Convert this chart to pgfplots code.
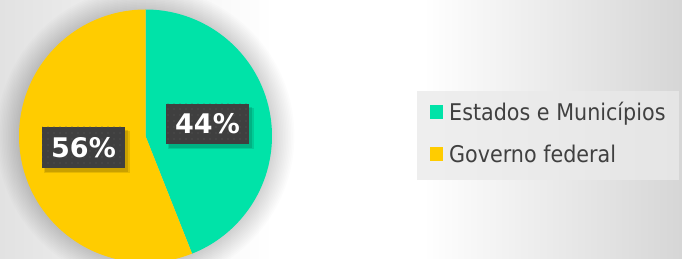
\documentclass[border=0pt]{standalone}
\usepackage{pgfplots}
\pgfplotsset{compat=1.18}
\usepackage{fontspec}
\setmainfont{DejaVu Sans}
\newfontfamily\legfont{DejaVu Sans Condensed}
\usetikzlibrary{patterns.meta}
\definecolor{pgreen}{HTML}{00E3A8}
\definecolor{pyellow}{HTML}{FFCC00}
\definecolor{boxgray}{HTML}{3F3F3F}
\definecolor{dotgray}{HTML}{5A5A5A}
\definecolor{txtgray}{HTML}{404040}
\definecolor{leggray}{HTML}{EAEAEA}
\definecolor{bgleft}{HTML}{E2E2E2}
\definecolor{bgright}{HTML}{D6D6D6}
\pgfdeclarehorizontalshading{bgshade}{100bp}{color(0bp)=(bgleft); color(25bp)=(bgleft); color(45bp)=(white); color(56bp)=(white); color(75bp)=(bgright); color(100bp)=(bgright)}

% data: share of each group (percent)
\def\valA{44}% Estados e Municipios
\def\valB{56}% Governo federal
% pie geometry (pt, 1pt = 1px)
\def\cx{145.5}\def\cy{123}\def\rr{126.5}

\begin{document}
\begin{tikzpicture}
\pgfmathsetmacro{\angA}{90-3.6*\valA}
\pgfmathsetmacro{\angB}{\angA-3.6*\valB}
% background
\shade[shading=bgshade] (0,0) rectangle (682pt,259pt);
% soft shadow of pie
\foreach \k in {1,...,14} {
  \fill[black,opacity=0.011] (\cx pt,\cy pt) circle[radius={\rr pt+\k*1.6pt}];
}
% legend panel
\fill[leggray,opacity=0.77] (417pt,79pt) rectangle (679pt,168pt);
\begin{axis}[
  at={(0,0)}, anchor=south west,
  x=1pt, y=1pt, xmin=0, xmax=682, ymin=0, ymax=259,
  hide axis, clip=true,
  legend image code/.code={\fill[#1] (0pt,-7pt) rectangle (13pt,7pt);},
  legend cell align=left,
  legend style={at={(axis cs:430,156)}, anchor=north west,
    fill=none, draw=none, inner sep=0pt, row sep=25pt, column sep=6pt,
    font=\legfont\fontsize{23}{23}\selectfont, text=txtgray,
    nodes={inner sep=0pt, text height=17pt, text depth=0pt}},
]
\addplot[draw=none, fill=pgreen, domain=\angA:90, samples=160, variable=\t]
  ({\cx+\rr*cos(\t)},{\cy+\rr*sin(\t)}) -- (axis cs:\cx,\cy) -- cycle;
\addlegendentry{Estados e Municípios}
\addplot[draw=none, fill=pyellow, domain=\angB:\angA, samples=200, variable=\t]
  ({\cx+\rr*cos(\t)},{\cy+\rr*sin(\t)}) -- (axis cs:\cx,\cy) -- cycle;
\addlegendentry{Governo federal}
% label shadows
\fill[black,opacity=0.10] (axis cs:168,110) rectangle (axis cs:254,151);
\fill[black,opacity=0.12] (axis cs:169,111) rectangle (axis cs:252,152);
\fill[black,opacity=0.10] (axis cs:44,86) rectangle (axis cs:130,128);
\fill[black,opacity=0.12] (axis cs:45,87) rectangle (axis cs:128,129);
% labels
\node[fill=boxgray, minimum width=83pt, minimum height=40pt, inner sep=0pt]
  at (axis cs:207.5,135) {};
\fill[pattern={Dots[distance=6pt,radius=0.7pt]}, pattern color=dotgray]
  (axis cs:166,115) rectangle (axis cs:249,155);
\node[text=white, font=\bfseries\fontsize{27}{27}\selectfont, text height=19.7pt, text depth=0pt, inner sep=0pt]
  at (axis cs:207.5,135) {44\%};
\node[fill=boxgray, minimum width=83pt, minimum height=41pt, inner sep=0pt]
  at (axis cs:83.5,111.5) {};
\fill[pattern={Dots[distance=6pt,radius=0.7pt]}, pattern color=dotgray]
  (axis cs:42,91) rectangle (axis cs:125,132);
\node[text=white, font=\bfseries\fontsize{27}{27}\selectfont, text height=19.7pt, text depth=0pt, inner sep=0pt]
  at (axis cs:83.5,111.5) {56\%};
\end{axis}
\pgfresetboundingbox
\path[use as bounding box] (0,0) rectangle (682pt,259pt);
\end{tikzpicture}
\end{document}
